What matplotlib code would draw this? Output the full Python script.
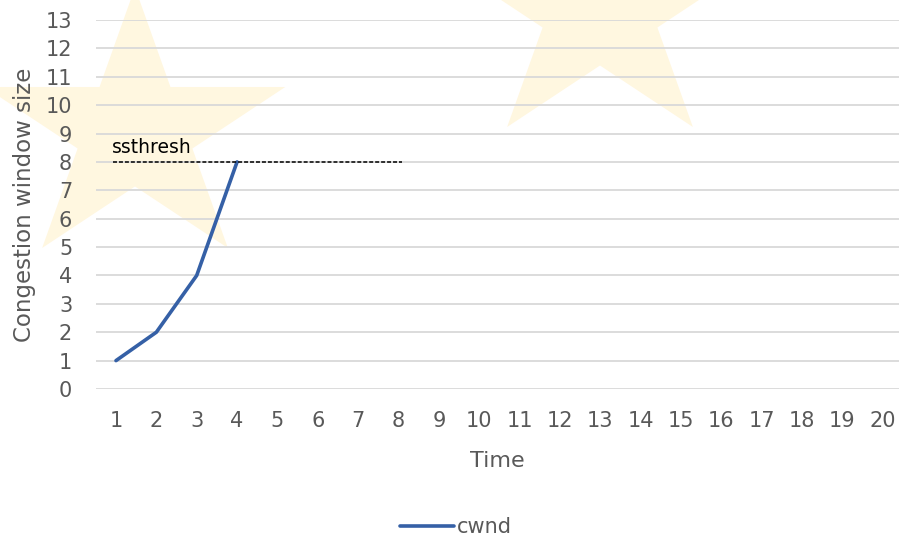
import matplotlib
matplotlib.use("Agg")
import matplotlib.pyplot as plt
import numpy as np
from matplotlib.patches import Polygon

# Data
time_ticks = list(range(1, 21))
cwnd_time = [1, 2, 3, 4]
cwnd_values = [1, 2, 4, 8]
ssthresh_value = 8
ssthresh_span = [0.92, 8.08]
y_ticks = list(range(0, 14))

plt.rcParams['font.family'] = ['DejaVu Sans']

W, H = 899, 539
fig = plt.figure(figsize=(W / 100, H / 100), dpi=100)
fig.patch.set_facecolor('white')


def star_points(cx, cy, rx, ry):
    pts = []
    for k in range(10):
        ang = np.pi / 2 + k * np.pi / 5
        s = 1.0 if k % 2 == 0 else 0.382
        # pixel coords, y measured from top
        pts.append((cx + rx * s * np.cos(ang), cy - ry * s * np.sin(ang)))
    return [(x / W, 1 - y / H) for x, y in pts]


# Faint decorative stars in the background
for cx, cy in [(135, 131.5), (600, 10.5)]:
    fig.patches.append(Polygon(star_points(cx, cy, 158, 144), closed=True,
                               transform=fig.transFigure, facecolor='#FFF7E0',
                               edgecolor='none', zorder=-5))

left = 95.8 / W
bottom = (H - 389) / H
top = (H - 20) / H
ax = fig.add_axes([left, bottom, 1 - left, top - bottom])
ax.set_facecolor('none')
ax.set_xlim(0.5, 20.4)
ax.set_ylim(0, 13)

ax.set_yticks(y_ticks)
ax.set_xticks(time_ticks)
ax.grid(axis='y', color='#D9D9D9', linewidth=1.3)
ax.set_axisbelow(True)
for sp in ax.spines.values():
    sp.set_visible(False)
ax.tick_params(axis='both', length=0, labelsize=15, labelcolor='#595959')
ax.tick_params(axis='x', pad=16)
ax.tick_params(axis='y', pad=17)

ax.plot(cwnd_time, cwnd_values, color='#3560A6', linewidth=2.6,
        solid_capstyle='round', solid_joinstyle='round', label='cwnd', zorder=3)

ax.plot(ssthresh_span, [ssthresh_value, ssthresh_value], color='black',
        linewidth=1.1, linestyle=(0, (2.6, 1.3)), zorder=4)
ax.text(ssthresh_span[0] - 0.02, ssthresh_value + 0.17, 'ssthresh', fontsize=13.5,
        color='black', ha='left', va='bottom')

ax.set_xlabel('Time', fontsize=16, color='#595959', labelpad=14)
ax.set_ylabel('Congestion window size', fontsize=16.5, color='#595959', labelpad=7)

leg = fig.legend(loc='center', bbox_to_anchor=(456 / W, 1 - 527 / H), frameon=False,
                 fontsize=15, handlelength=2.6, handletextpad=0.15,
                 labelcolor='#595959')

fig.savefig('out.png', dpi=100)
